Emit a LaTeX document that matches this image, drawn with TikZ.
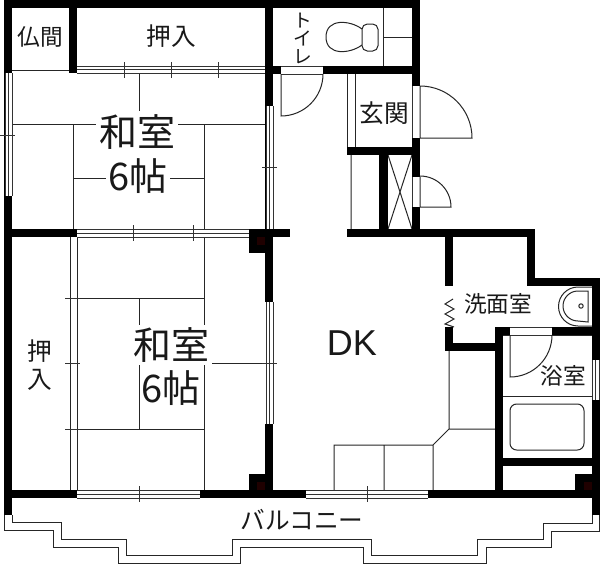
\documentclass[tikz,border=0pt]{standalone}
\usepackage{fontspec}
\setmainfont{Noto Sans CJK JP}
\setsansfont{Liberation Sans}
\tikzset{
  wall/.style={fill=black,draw=none},
  thin/.style={draw=black!85,line width=0.75pt},
  hair/.style={draw=black!80,line width=0.6pt},
  lbl/.style={inner sep=0pt,text=black!90},
  roomlbl/.style={lbl,fill=white,inner sep=2pt,font=\fontsize{28.5}{30}\selectfont},
  lbm/.style={lbl,font=\fontsize{18.5}{20}\selectfont},
  lbs/.style={lbl,font=\fontsize{17}{18}\selectfont}
}
\newcommand{\wl}[4]{\fill[wall] (#1,#2) rectangle (#3,#4);}
% horizontal window: x1 x2 y1 y2
\newcommand{\hwin}[4]{\fill[white] (#1,#3) rectangle (#2,#4);\draw[hair] (#1,#3) -- (#2,#3) (#1,#4) -- (#2,#4);\draw[hair] (#1,{(#3+#4)/2}) -- (#2,{(#3+#4)/2});}
\newcommand{\vwin}[4]{\fill[white] (#3,#1) rectangle (#4,#2);\draw[hair] (#3,#1) -- (#3,#2) (#4,#1) -- (#4,#2);\draw[hair] ({(#3+#4)/2},#1) -- ({(#3+#4)/2},#2);}
\begin{document}
\begin{tikzpicture}[x=0.75pt,y=-0.75pt]
\useasboundingbox (0,0) rectangle (600,564);
\fill[white] (0,0) rectangle (600,564);
% tatami lines upper room
\draw[thin] (12,70) -- (69,70) (139,73) -- (139,111)
  (12,124) -- (265,124) (73,124) -- (73,229) (204,124) -- (204,229) (73,178) -- (204,178);
% tatami lines lower room
\draw[thin] (77,298) -- (204,298) (204,237) -- (204,490) (139,298) -- (139,429)
  (77,429) -- (204,429) (212,363) -- (265,363);
% double line of the closet
\draw[thin] (70,237) -- (70,490) (77,237) -- (77,490);
% kitchen
\draw[thin] (449,351) -- (449,429) -- (495,429) (449,429) -- (433,445) -- (334,445) -- (334,490)
  (384,445) -- (384,490) (433,445) -- (433,490);
% toilet
\draw[thin] (383,8) -- (383,66) (383,37) -- (412,37);
\draw[thin,fill=white] (362,29) .. controls (350,20) and (326,18) .. (326,37) .. controls (326,56) and (350,54) .. (362,45);
\draw[thin,fill=white,rounded corners=4pt] (362,24) rectangle (378,51);
% entrance and closet thin lines
\draw[thin] (351,155) -- (351,229) (388,155) -- (412,229) (412,155) -- (388,229);
\draw[thin] (347,74) -- (347,147) (355,74) -- (355,147);
% bath
\draw[thin] (503,335) -- (592,335) (503,396) -- (592,396);
\draw[thin,rounded corners=5pt] (510,404) rectangle (584,450);
% walls
\wl{4}{0}{420}{8}
\wl{4}{0}{12}{515}
\wl{69}{8}{77}{73}
\wl{265}{0}{273}{302}
\wl{265}{424}{273}{498}
\wl{12}{229}{77}{237}
\wl{249}{229}{290}{237}
\wl{249}{229}{273}{253}
\wl{249}{474}{273}{498}
\wl{12}{490}{600}{498}
\wl{412}{0}{420}{237}
\wl{273}{66}{412}{74}
\wl{347}{147}{420}{155}
\wl{379}{155}{388}{230}
\wl{347}{229}{535}{237}
\wl{527}{229}{535}{286}
\wl{527}{278}{600}{286}
\wl{592}{278}{600}{515}
\wl{445}{237}{453}{286}
\wl{445}{327}{453}{351}
\wl{445}{343}{503}{351}
\wl{495}{327}{503}{498}
\wl{495}{327}{600}{335}
\wl{503}{458}{600}{466}
\wl{575}{474}{600}{498}
\fill[black!60!red!30!black] (257,237) rectangle (265,245);
\fill[black!60!red!30!black] (257,482) rectangle (265,490);
\fill[black!60!red!30!black] (584,482) rectangle (592,490);
% windows
\hwin{77}{265}{66}{73}
\hwin{77}{249}{229}{237}
\hwin{77}{200}{490}{498}
\hwin{306}{428}{490}{498}
\vwin{73}{196}{5}{12}
\vwin{106}{229}{266}{273}
\vwin{302}{424}{266}{273}
\vwin{360}{400}{592}{599}
% window marks
\draw[hair] (124,62) -- (124,78) (171,62) -- (171,78) (218,62) -- (218,78)
  (133,225) -- (133,241) (193,225) -- (193,241)
  (139,486) -- (139,502) (367,486) -- (367,502)
  (0,135) -- (15,135) (262,167) -- (277,167)
  (65,298) -- (80,298) (65,363) -- (80,363) (65,429) -- (80,429) (262,363) -- (277,363);
% door openings
\fill[white] (281,66) rectangle (323,74);
\draw[hair] (281,66) -- (323,66) (281,74) -- (323,74);
\draw[thin] (281,74) -- (281,116) arc[start angle=270,end angle=360,radius=42*0.75pt];
\fill[white] (412,86) rectangle (420,138);
\draw[hair] (412,86) -- (412,138);
\draw[thin] (420,86) -- (420,138) -- (472,138) arc[start angle=0,end angle=90,radius=52*0.75pt];
\fill[white] (412,177) rectangle (420,207);
\draw[hair] (412,177) -- (412,207);
\draw[thin] (420,177) -- (420,207) -- (451,207) arc[start angle=0,end angle=90,radius=31*0.75pt];
\fill[white] (510,327) rectangle (552,335);
\draw[hair] (510,327) -- (552,327) (510,335) -- (552,335);
\draw[thin] (510,335) -- (510,377) arc[start angle=270,end angle=360,radius=42*0.75pt];
% sliding door zigzag
\draw[thin] (453,299) -- (445,304) -- (454,309) -- (445,314) -- (454,319) -- (445,324) -- (454,327);
% sink
\draw[thin] (592,287) -- (578,287) arc[start angle=90,end angle=270,radius=19.5*0.75pt] -- (592,326);
\draw[thin] (588,291) -- (578,291) arc[start angle=90,end angle=270,radius=15*0.75pt] -- (588,322) -- cycle;
\draw[thin] (581,306) circle[radius=2.2*0.75pt];
% balcony
\draw[thin] (4,515) -- (4,530) -- (53,530) -- (53,547) -- (118,547) -- (118,563) -- (240,563) -- (240,547)
  -- (363,547) -- (363,563) -- (486,563) -- (486,547) -- (551,547) -- (551,531) -- (599,531) -- (599,515);
\draw[thin] (12,515) -- (12,522) -- (61,522) -- (61,539) -- (126,539) -- (126,555) -- (232,555) -- (232,539)
  -- (371,539) -- (371,555) -- (477,555) -- (477,539) -- (543,539) -- (543,523) -- (592,523) -- (592,515);
% labels
\node[roomlbl] (w1) at (137,132) {和室};
\node[roomlbl] (j1) at (138,176) {6帖};
\node[roomlbl] (w2) at (171,345) {和室};
\node[roomlbl,inner sep=0pt] (j2) at (171,388) {6帖};
\node[lbs] (butsu) at (40,37) {仏間};
\node[lbm] (oshi1) at (171,36) {押入};
\node[lbm,align=center,font=\fontsize{18.5}{21}\selectfont] (oshi2) at (40,365) {押\\入};
\node[lbm] (gen) at (384,113) {玄関};
\node[lbs] (sen) at (498,304) {洗面室};
\node[lbs] (yoku) at (563,376) {浴室};
\node[lbl,font=\fontsize{18.5}{20}\selectfont] (bal) at (302,520) {バルコニー};
\node[lbl,font=\sffamily\fontsize{27}{30}\selectfont] (dk) at (352,343) {DK};
\node[lbl,align=center,font=\fontsize{14}{13.5}\selectfont] (toi) at (303,38) {ト\\イ\\レ};
\end{tikzpicture}
\end{document}
